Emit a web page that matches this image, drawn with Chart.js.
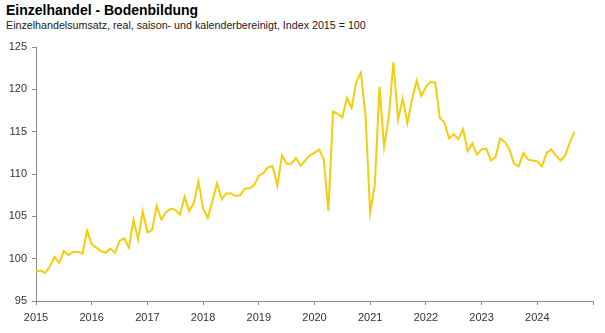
<!DOCTYPE html>
<html>
<head>
<meta charset="utf-8">
<script src="https://cdn.jsdelivr.net/npm/chart.js@4"></script>
<style>
  body { margin: 0; background: #fff; }
  #wrap { position: relative; width: 605px; height: 333px; font-family: "Liberation Sans", Arial, sans-serif; }
  #title { position: absolute; left: 6px; top: 2px; font-size: 14px; font-weight: bold; color: #000; }
  #sub { position: absolute; left: 6px; top: 19px; font-size: 10.7px; color: #1a1a1a; }
  canvas { position: absolute; left: 0; top: 0; }
</style>
</head>
<body>
<div id="wrap">
  <div id="title">Einzelhandel - Bodenbildung</div>
  <div id="sub">Einzelhandelsumsatz, real, saison- und kalenderbereinigt, Index 2015 = 100</div>
  <canvas id="c" width="605" height="333"></canvas>
</div>
<script>
// monthly index values, Jan..Dec per year
const v2015 = [98.5, 98.6, 98.3, 99.1, 100.2, 99.5, 100.9, 100.4, 100.8, 100.8, 100.6, 103.3];
const v2016 = [101.7, 101.3, 100.9, 100.7, 101.2, 100.7, 102.1, 102.4, 101.3, 104.6, 102.3, 105.6];
const v2017 = [103.1, 103.4, 106.2, 104.6, 105.5, 105.9, 105.8, 105.2, 107.3, 105.6, 106.6, 109.1];
const v2018 = [105.9, 104.8, 106.8, 108.9, 107.0, 107.7, 107.7, 107.4, 107.5, 108.3, 108.3, 108.7];
const v2019 = [109.8, 110.1, 110.8, 110.9, 108.6, 112.2, 111.2, 111.2, 111.9, 111.0, 111.6, 112.2];
const v2020 = [112.5, 112.9, 111.7, 105.6, 117.4, 117.1, 116.7, 119.0, 117.8, 120.9, 122.0, 116.8];
const v2021 = [105.4, 108.8, 120.3, 113.2, 116.7, 123.2, 116.4, 118.9, 116.0, 118.8, 121.0, 119.2];
const v2022 = [120.3, 120.9, 120.8, 116.6, 116.1, 114.2, 114.7, 114.1, 115.3, 112.7, 113.6, 112.3];
const v2023 = [112.9, 113.0, 111.6, 112.0, 114.2, 113.8, 112.9, 111.2, 110.9, 112.5, 111.7, 111.6];
const v2024 = [111.5, 110.9, 112.5, 112.9, 112.2, 111.6, 112.2, 113.7, 115.0];

const startYear = 2015;
const yTicks = [95, 100, 105, 110, 115, 120, 125];
const xTickYears = [2015, 2016, 2017, 2018, 2019, 2020, 2021, 2022, 2023, 2024];

const values = [].concat(v2015, v2016, v2017, v2018, v2019, v2020, v2021, v2022, v2023, v2024);
const points = values.map((v, i) => ({ x: startYear + i / 12, y: v }));

const axisGrey = "#8c8c8c";
const textCol = "#333333";

new Chart(document.getElementById("c"), {
    type: "line",
    data: {
        datasets: [{
            data: points,
            borderColor: "#f5cd0c",
            borderWidth: 2,
            pointRadius: 0,
            tension: 0,
            fill: false
        }]
    },
    options: {
        responsive: false,
        animation: false,
        layout: { padding: { top: 47, right: 12, left: 0, bottom: 0 } },
        plugins: { legend: { display: false }, tooltip: { enabled: false } },
        scales: {
            x: {
                type: "linear",
                min: 2015,
                max: 2025,
                afterFit: s => { s.height = 32; },
                afterBuildTicks: s => { s.ticks = xTickYears.concat([2025]).map(v => ({ value: v })); },
                ticks: {
                    callback: v => xTickYears.includes(v) ? String(v) : "",
                    color: textCol,
                    font: { family: "Liberation Sans", size: 11 },
                    maxRotation: 0,
                    padding: 6
                },
                grid: { display: true, drawOnChartArea: false, drawTicks: true, tickLength: 4, color: axisGrey },
                border: { display: true, color: axisGrey, width: 1 }
            },
            y: {
                min: 95,
                max: 125,
                afterFit: s => { s.width = 36; },
                afterBuildTicks: s => { s.ticks = yTicks.map(v => ({ value: v })); },
                ticks: {
                    color: textCol,
                    font: { family: "Liberation Sans", size: 11 },
                    padding: 5
                },
                grid: { display: true, drawOnChartArea: false, drawTicks: true, tickLength: 4, color: axisGrey },
                border: { display: true, color: axisGrey, width: 1 }
            }
        }
    }
});
</script>
</body>
</html>
